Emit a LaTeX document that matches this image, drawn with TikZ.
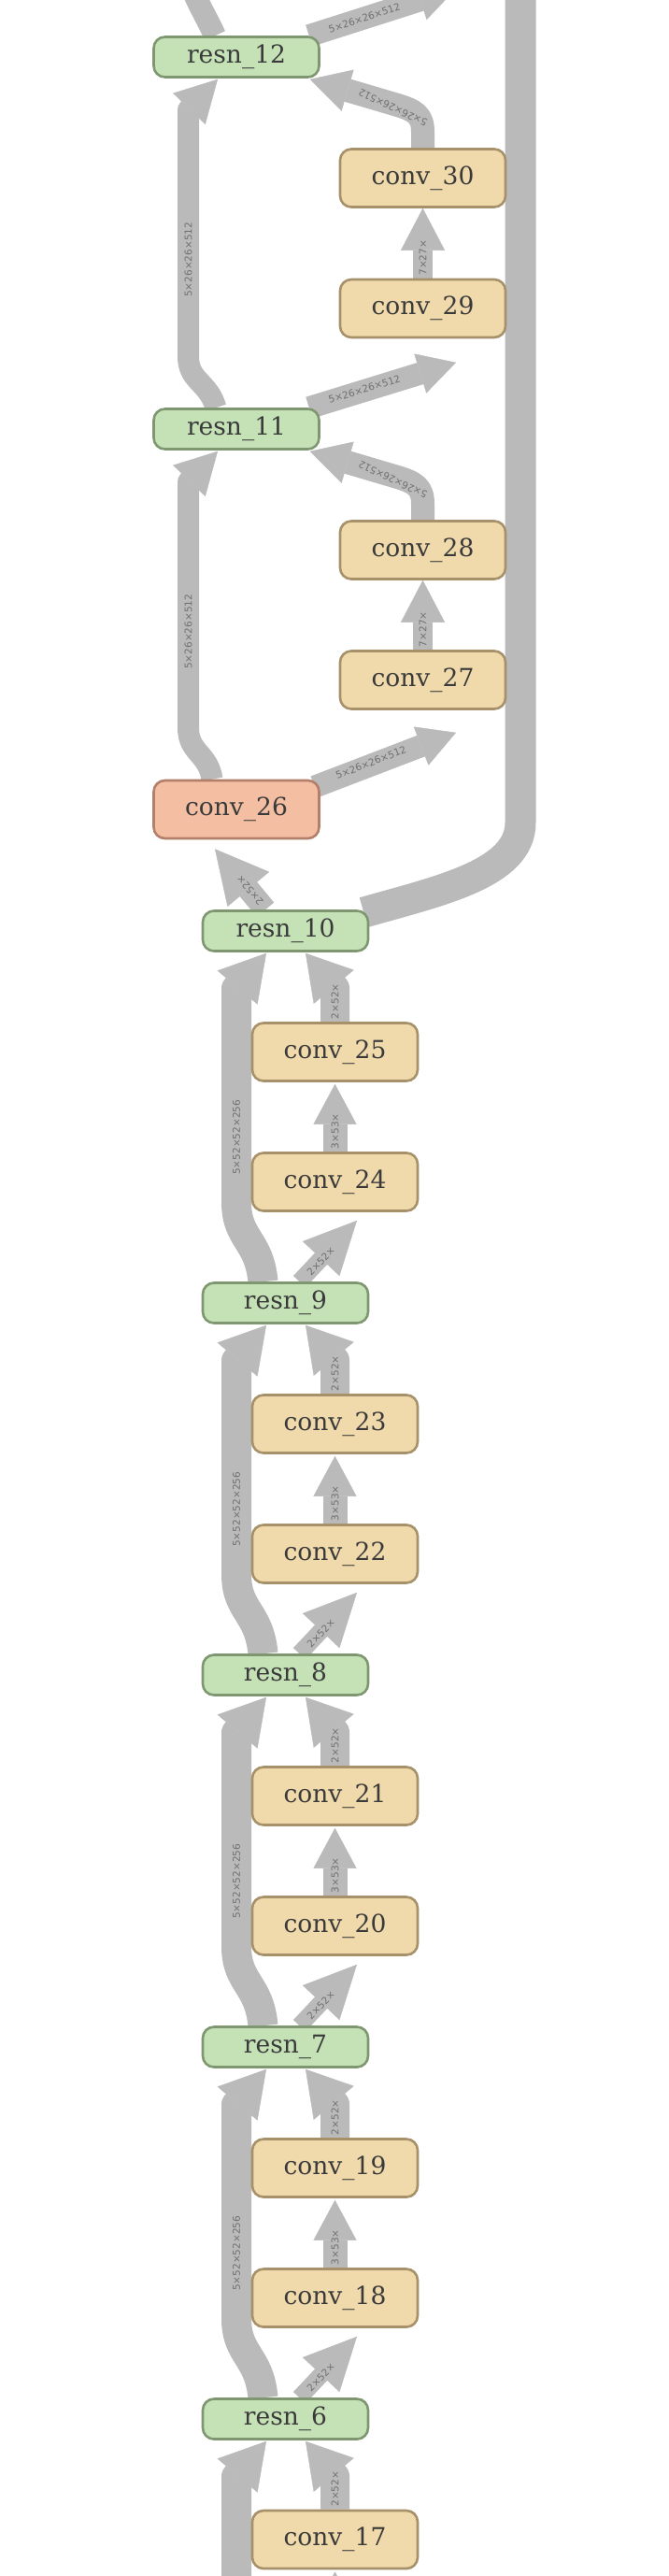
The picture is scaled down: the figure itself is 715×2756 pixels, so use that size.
\documentclass[tikz,border=0pt]{standalone}
\usepackage{fontspec}
\usetikzlibrary{arrows.meta,backgrounds,calc}
\newfontfamily\nodefam{DejaVu Serif}
\newfontfamily\lblfam{DejaVu Sans}
\definecolor{edgegray}{RGB}{186,186,186}
\definecolor{lblgray}{RGB}{112,112,112}
\definecolor{txtgray}{RGB}{58,58,58}
\definecolor{resnfill}{RGB}{197,226,183}
\definecolor{resndraw}{RGB}{126,151,112}
\definecolor{convfill}{RGB}{240,218,171}
\definecolor{convdraw}{RGB}{166,145,106}
\definecolor{salmfill}{RGB}{243,190,162}
\definecolor{salmdraw}{RGB}{178,127,106}
\tikzset{
  blk/.style={draw, rounded corners=12pt, line width=2.6pt, minimum width=177pt, inner sep=0pt, text=txtgray, font=\nodefam\fontsize{26.5}{30}\selectfont},
  resn/.style={blk, fill=resnfill, draw=resndraw, minimum height=43pt},
  conv/.style={blk, fill=convfill, draw=convdraw, minimum height=62pt},
  salm/.style={blk, fill=salmfill, draw=salmdraw, minimum height=62pt},
  lbl/.style={font=\lblfam\fontsize{10.5}{12}\selectfont, text=lblgray, inner sep=0pt},
  edge/.style={draw=edgegray, line join=round},
  hd/.style 2 args={arrows={-{Triangle[length=#1,width=#2,line width=0.4pt]}}},
}
\begin{document}
\begin{tikzpicture}[x=1pt,y=-1pt]
\useasboundingbox (0,0) rectangle (715,2756);
% nodes
\node[resn] (r12) at (253,61) {resn\_12};
\node[conv] (c30) at (452.5,190.5) {conv\_30};
\node[conv] (c29) at (452.5,330) {conv\_29};
\node[resn] (r11) at (253,459) {resn\_11};
\node[conv] (c28) at (452.5,588.5) {conv\_28};
\node[conv] (c27) at (452.5,727.5) {conv\_27};
\node[salm] (c26) at (253,866) {conv\_26};
\node[resn] (r10) at (305.5,996) {resn\_10};
\node[conv] (c25) at (358.5,1125.5) {conv\_25};
\node[conv] (c24) at (358.5,1264.5) {conv\_24};
\node[resn] (r9) at (305.5,1394) {resn\_9};
\node[conv] (c23) at (358.5,1523.5) {conv\_23};
\node[conv] (c22) at (358.5,1662.5) {conv\_22};
\node[resn] (r8) at (305.5,1792) {resn\_8};
\node[conv] (c21) at (358.5,1921.5) {conv\_21};
\node[conv] (c20) at (358.5,2060.5) {conv\_20};
\node[resn] (r7) at (305.5,2190) {resn\_7};
\node[conv] (c19) at (358.5,2319.5) {conv\_19};
\node[conv] (c18) at (358.5,2458.5) {conv\_18};
\node[resn] (r6) at (305.5,2588) {resn\_6};
\node[conv] (c17) at (358.5,2717) {conv\_17};
% free ends outside the picture
\coordinate (outA) at (488,-12);
\coordinate (outB) at (200,-25);
\coordinate (outC) at (557,-25);
\coordinate (inR5) at (253,2830);
\coordinate (inC16) at (358.5,2830);

\begin{pgfonlayer}{background}
\fill[white] (0,0) rectangle (715,2756);
\begin{scope}
\clip (0,0) rectangle (715,2756);

% ---------- top blocks ----------
\foreach \U/\L/\A/\B/\sx in {r12/r11/c30/c29/-22, r11/c26/c28/c27/-26}{
  % left skip
  \draw[edge, line width=23pt, hd={44pt}{48pt}]
    ([xshift=\sx pt]\L.north) .. controls ($(\L.north)+(-30,-28)$) and ($(\L.north)+(-51.5,-28)$) ..
    ($(\L.north)+(-51.5,-55)$) -- ($(\U.south)+(-51.5,33.6)$) -- ([xshift=-20pt,yshift=-1pt]\U.south);
  \node[lbl, rotate=90] at ($(\U.south)+(-51.5,194)$) {5×26×26×512};
  % conv -> resn (curved)
  \draw[edge, line width=25pt, hd={42pt}{46pt}]
    (\A.north) -- ($(\A.north)+(0,-17)$) .. controls ($(\A.north)+(0,-35)$) and ($(\A.north)+(-8,-40)$) ..
    ($(\A.north)+(-28,-46)$) -- ([xshift=-11pt,yshift=-1pt]\U.south east);
  \node[lbl, rotate=155] at ($(\A.north)+(-32,-43)$) {5×26×26×512};
  % conv -> conv
  \draw[edge, line width=21pt, hd={45pt}{47pt}] (\B.north) -- (\A.south);
  \node[lbl, rotate=90, anchor=west] at ([yshift=3pt]\B.north) {7×27×};
}
% resn_11 -> conv_29
\draw[edge, line width=24pt, hd={40pt}{44pt}] ([xshift=-12pt]r11.north east) -- ([xshift=35.5pt,yshift=-25.5pt]c29.south);
\node[lbl, rotate=17] at ($(r11.north)+(137,-20)$) {5×26×26×512};
% conv_26 -> conv_27
\draw[edge, line width=24pt, hd={40pt}{44pt}] ([xshift=-6pt,yshift=-8pt]c26.north east) -- ([xshift=35.5pt,yshift=-24pt]c27.south);
\node[lbl, rotate=21] at ($(c26.north)+(144,-18)$) {5×26×26×512};
% resn_12 -> out (up right)
\draw[edge, line width=24pt, hd={40pt}{44pt}] ([xshift=-12pt]r12.north east) -- (outA);
\node[lbl, rotate=18] at ($(r12.north)+(137,-19)$) {5×26×26×512};
% resn_12 -> out (up left)
\draw[edge, line width=24pt] ([xshift=-23pt]r12.north) .. controls ($(r12.north)+(-31,-18)$) and ($(r12.north)+(-41,-33)$) .. (outB);

% resn_10 -> conv_26
\draw[edge, line width=24pt, hd={56pt}{58pt}] ([xshift=-21.5pt]r10.north) -- ([xshift=-23pt,yshift=-10pt]c26.south);
\node[lbl, rotate=130] at ($(r10.north)+(-38,-21)$) {2×52×};
% resn_10 -> out (big bar)
\draw[edge, line width=33pt] ([xshift=-6pt,yshift=-3pt]r10.north east) .. controls (470,953) and (557,935) .. (557,880) -- (outC);

% ---------- lower blocks ----------
\foreach \U/\L/\A/\B in {r10/r9/c25/c24, r9/r8/c23/c22, r8/r7/c21/c20, r7/r6/c19/c18}{
  % left skip
  \draw[edge, line width=32pt, hd={48pt}{56pt}]
    ([xshift=-24pt]\L.north) .. controls ($(\L.north)+(-28,-45)$) and ($(\L.north)+(-52.5,-45)$) ..
    ($(\L.north)+(-52.5,-85)$) -- ($(\U.south)+(-52.5,39)$) -- ([xshift=-20.5pt,yshift=-1pt]\U.south);
  \node[lbl, rotate=90] at ($(\U.south)+(-52.5,198)$) {5×52×52×256};
  % conv -> resn
  \draw[edge, line width=31pt, hd={47pt}{56pt}]
    (\A.north) -- ($(\U.south)+(53,38.5)$) -- ([xshift=21.5pt,yshift=-1pt]\U.south);
  \node[lbl, rotate=90, anchor=west] at ([yshift=3pt]\A.north) {2×52×};
  % conv -> conv
  \draw[edge, line width=26pt, hd={43pt}{46pt}] (\B.north) -- ([yshift=-2pt]\A.south);
  \node[lbl, rotate=90, anchor=west] at ([yshift=3pt]\B.north) {3×53×};
  % resn -> conv (up right)
  \draw[edge, line width=18pt, hd={56pt}{54pt}] ([xshift=15pt]\L.north) -- ([xshift=23.5pt,yshift=-9pt]\B.south);
  \node[lbl, rotate=46] at ($(\L.north)+(38,-22)$) {2×52×};
}
% last partial block
\draw[edge, line width=32pt, hd={48pt}{56pt}]
  (inR5) -- ($(r6.south)+(-52.5,39)$) -- ([xshift=-20.5pt,yshift=-1pt]r6.south);
\draw[edge, line width=31pt, hd={47pt}{56pt}]
  (c17.north) -- ($(r6.south)+(53,38.5)$) -- ([xshift=21.5pt,yshift=-1pt]r6.south);
\node[lbl, rotate=90, anchor=west] at ([yshift=3pt]c17.north) {2×52×};
\draw[edge, line width=26pt, hd={43pt}{46pt}] (inC16) -- ([yshift=-2pt]c17.south);
\end{scope}
\end{pgfonlayer}
\end{tikzpicture}
\end{document}
